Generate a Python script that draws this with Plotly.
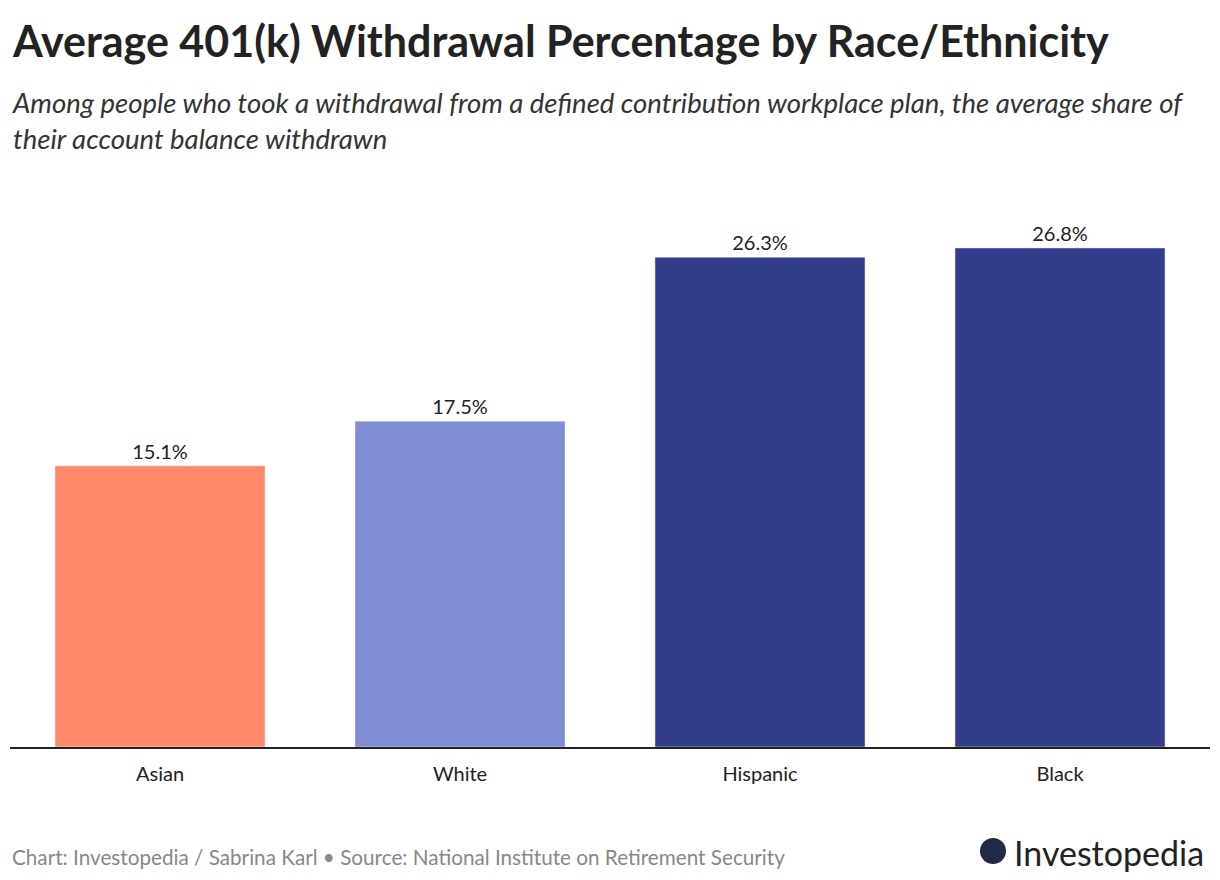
import plotly.graph_objects as go

categories = ["Asian", "White", "Hispanic", "Black"]
values = [15.1, 17.5, 26.3, 26.8]
colors = ["#FF8A6B", "#7F8ED3", "#323C8A", "#323C8A"]

title = "<b>Average 401(k) Withdrawal Percentage by Race/Ethnicity</b>"
subtitle = ("<i>Among people who took a withdrawal from a defined contribution workplace plan, "
            "the average share of<br>their account balance withdrawn</i>")
footer = "Chart: Investopedia / Sabrina Karl • Source: National Institute on Retirement Security"

fig = go.Figure(go.Bar(
    x=categories, y=values, marker_color=colors,
    text=[f"{v}%" for v in values], textposition="outside",
    textfont=dict(size=20, color="#222"), cliponaxis=False,
))

# page body adds an 8px offset, so margins are shifted by 8
fig.update_layout(
    width=1220, height=880,
    margin=dict(l=2, r=18, t=172, b=141),
    paper_bgcolor="white", plot_bgcolor="white",
    font=dict(family="Lato, Noto Sans, sans-serif", color="#222"),
    bargap=0.3, showlegend=False,
    xaxis=dict(showline=True, linecolor="#222", linewidth=1.5, ticks="outside",
               ticklen=8, tickcolor="white", tickfont=dict(size=20, color="#222")),
    yaxis=dict(range=[0, 30.45], visible=False),
)


# place text by reference pixel position, converted to paper coords
def px(x, y):
    return (x - 10) / 1200, (747 - y) / 567


for x, y, text, size, color in [
    (10, 40, title, 43, "#222"),
    (10, 120, subtitle, 27.5, "#333"),
    (10, 857, footer, 20.7, "#888"),
    (1012, 852, "Investopedia", 34, "#222"),
]:
    ax, ay = px(x, y)
    fig.add_annotation(x=ax, y=ay, xref="paper", yref="paper", xanchor="left", yanchor="middle",
                       align="left", showarrow=False, text=text, font=dict(size=size, color=color))

x0, y0 = px(980, 864)
x1, y1 = px(1006, 838)
fig.add_shape(type="circle", xref="paper", yref="paper", x0=x0, x1=x1, y0=y0, y1=y1,
              fillcolor="#1f2a44", line=dict(width=0))

fig.write_html("out.html")
